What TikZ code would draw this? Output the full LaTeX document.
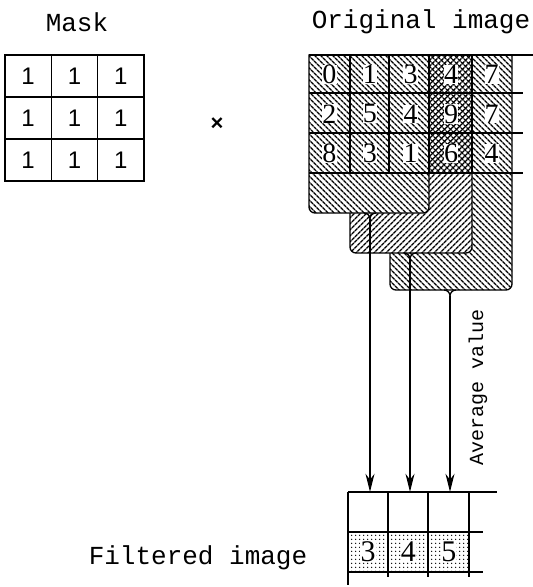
\documentclass[tikz,border=0pt]{standalone}
\usepackage{fontspec}
\setmainfont{Liberation Serif}
\newfontfamily\labelfont{Liberation Mono}
\newfontfamily\maskfont{Liberation Sans}
\usetikzlibrary{arrows.meta,patterns.meta}

\begin{document}
\begin{tikzpicture}[x=1pt,y=1pt,
  gridline/.style={line width=1.3pt},
  hatchleft/.style={pattern={Lines[angle=-45,distance=4pt,line width=1.4pt]}},
  hatchright/.style={pattern={Lines[angle=45,distance=4pt,line width=1.4pt]}},
  hatchdots/.style={pattern={Dots[distance=4pt,radius=0.9pt]}},
  maskcell/.style={draw,gridline,minimum width=46.3pt,minimum height=42pt,inner sep=0pt,
    font=\maskfont\fontsize{24}{24}\selectfont},
  imgdigit/.style={fill=white,inner sep=0.2pt,font=\fontsize{28}{28}\selectfont},
  fcell/.style={minimum width=40.3pt,minimum height=40pt,inner sep=0pt},
  title/.style={font=\labelfont\fontsize{26}{26}\selectfont},
  avgarrow/.style={gridline,-{Stealth[length=18pt,width=9pt]}}]

  \useasboundingbox (0,0) rectangle (533,-587);

  % mask
  \node[title] (masktitle) at (77,-22) {Mask};
  \foreach \r in {1,2,3}
    \foreach \c in {1,2,3}
      \node[maskcell] (m-\r-\c) at ({5+46.3*(\c-0.5)},{-55-42*(\r-0.5)}) {1};
  \node[font=\maskfont\bfseries\fontsize{22}{22}\selectfont] (times) at (217,-124) {×};

  % original image
  \node[title] (imgtitle) at (421,-22) {Original image};

  % windows, lowest first
  \draw[gridline,fill=white,postaction={hatchleft}] (390,-55) -- (390,-284)
    arc[start angle=180,end angle=270,radius=6] -- (506,-290)
    arc[start angle=270,end angle=360,radius=6] -- (512,-55) -- cycle;
  \draw[gridline,fill=white,postaction={hatchright}] (350,-55) -- (350,-247)
    arc[start angle=180,end angle=270,radius=6] -- (466,-253)
    arc[start angle=270,end angle=360,radius=6] -- (472,-55) -- cycle;
  \draw[gridline,fill=white,postaction={hatchleft}] (309,-55) -- (309,-207)
    arc[start angle=180,end angle=270,radius=6] -- (423,-213)
    arc[start angle=270,end angle=360,radius=6] -- (429,-55) -- cycle;

  % overlap of windows 2 and 3 inside the grid
  \path[hatchleft] (429,-55) rectangle (472,-173);

  % stems
  \coordinate (s1) at (370,-219);
  \coordinate (s2) at (410,-259);
  \coordinate (s3) at (450,-296);
  \draw[gridline] (364,-213) to[out=0,in=90] (s1) to[out=90,in=180] (376,-213);
  \draw[gridline] (404,-253) to[out=0,in=90] (s2) to[out=90,in=180] (416,-253);
  \draw[gridline] (444,-290) to[out=0,in=90] (s3) to[out=90,in=180] (456,-290);

  % grid lines
  \draw[gridline] (309,-55) -- (533,-55);
  \foreach \y in {93,133,173}
    \draw[gridline] (309,-\y) -- (523,-\y);
  \foreach \x in {350,389,429,472}
    \draw[gridline] (\x,-55) -- (\x,-173);

  \foreach \row [count=\r] in {{0,1,3,4,7},{2,5,4,9,7},{8,3,1,6,4}}
    \foreach \v [count=\c] in \row
      \node[imgdigit] (o-\r-\c) at ({309+40.6*(\c-0.5)},{-55-39.3*(\r-0.5)}) {\v};

  % filtered image
  \node[title] (filtertitle) at (198,-558) {Filtered image};
  \foreach \c in {1,2,3}
    \node[fcell] (f-1-\c) at ({348+40.3*(\c-0.5)},-512) {};
  \foreach \v [count=\c] in {3,4,5} {
    \path[hatchdots] ({348+40.3*(\c-1)},-532) rectangle ++(40.3,-40);
    \node[imgdigit,font=\fontsize{30}{30}\selectfont] (f-2-\c) at ({348+40.3*(\c-0.5)},-552) {\v};
  }
  \draw[gridline] (348,-492) -- (497,-492);
  \draw[gridline] (348,-532) -- (483,-532);
  \draw[gridline] (348,-572) -- (483,-572);
  \draw[gridline] (348,-492) -- (348,-585);
  \foreach \x in {388,428,469}
    \draw[gridline] (\x,-492) -- (\x,-577);

  % averaging arrows
  \draw[avgarrow] (s1) -- (s1 |- f-1-1.north);
  \draw[avgarrow] (s2) -- (s2 |- f-1-2.north);
  \draw[avgarrow] (s3) -- (s3 |- f-1-3.north);
  \node[font=\labelfont\fontsize{20}{20}\selectfont,rotate=90] (avglabel) at (478,-387) {Average value};
\end{tikzpicture}
\end{document}
